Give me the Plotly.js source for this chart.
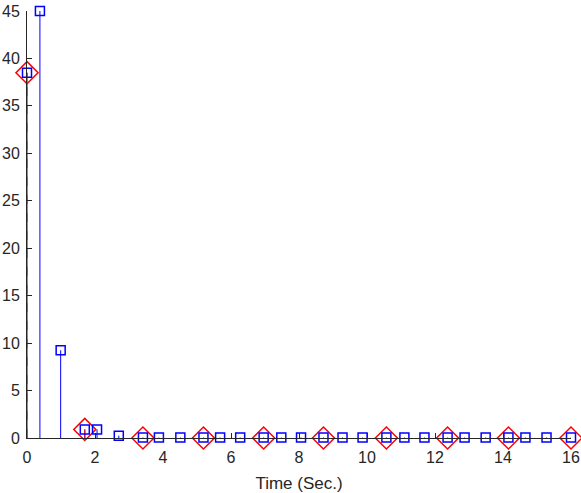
<!DOCTYPE html>
<html>
<head>
<meta charset="utf-8">
<script src="https://cdn.plot.ly/plotly-3.0.1.min.js"></script>
<style>html,body{margin:0;padding:0;background:#fff;}#chart{width:581px;height:493px;}</style>
</head>
<body>
<div id="chart"></div>
<script>
// Blue squares series (stem)
const blueX = [0.0, 0.38, 0.99, 1.70, 2.06, 2.70, 3.41, 3.88, 4.51, 5.19, 5.68, 6.27, 6.96, 7.48, 8.06, 8.72, 9.28, 9.87, 10.57, 11.10, 11.69, 12.37, 12.87, 13.49, 14.16, 14.66, 15.28, 16.0];
const blueY = [38.5, 45.0, 9.25, 0.9, 0.9, 0.25, 0.05, 0.05, 0.05, 0.05, 0.05, 0.05, 0.05, 0.05, 0.05, 0.05, 0.05, 0.05, 0.05, 0.05, 0.05, 0.05, 0.05, 0.05, 0.05, 0.05, 0.05, 0.05];
// Red diamonds series (stem)
const redX = [0.0, 1.70, 3.41, 5.19, 6.96, 8.72, 10.57, 12.37, 14.16, 16.0];
const redY = [38.5, 0.9, 0.0, 0.0, 0.0, 0.0, 0.0, 0.0, 0.0, 0.0];
const xTicks = [0, 2, 4, 6, 8, 10, 12, 14, 16];
const yTicks = [0, 5, 10, 15, 20, 25, 30, 35, 40, 45];
const xTitle = 'Time (Sec.)';

function stems(xs, ys) {
  const sx = [], sy = [];
  xs.forEach((x, i) => { sx.push(x, x, null); sy.push(0, ys[i], null); });
  return {x: sx, y: sy};
}
const bs = stems(blueX, blueY);
const rs = stems(redX, redY);

const traces = [
  {x: bs.x, y: bs.y, mode: 'lines', line: {color: '#0000ff', width: 1}, hoverinfo: 'skip', cliponaxis: false, showlegend: false},
  {x: rs.x, y: rs.y, mode: 'lines', line: {color: '#ff0000', width: 1, dash: 'dash'}, hoverinfo: 'skip', cliponaxis: false, showlegend: false},
  {x: redX, y: redY, mode: 'markers', marker: {symbol: 'diamond-open', size: 17, color: '#ff0000', line: {color: '#ff0000', width: 1.5}}, cliponaxis: false, showlegend: false},
  {x: blueX, y: blueY, mode: 'markers', marker: {symbol: 'square-open', size: 9, color: '#0000ff', line: {color: '#0000ff', width: 1.5}}, cliponaxis: false, showlegend: false}
];

const font = {family: '"Liberation Sans", Arial, sans-serif', size: 16, color: '#262626'};
const layout = {
  width: 581, height: 493,
  margin: {l: 27, r: 10, t: 11, b: 55},
  paper_bgcolor: '#fff', plot_bgcolor: '#fff',
  font: font,
  showlegend: false,
  xaxis: {
    range: [0, 16], tickvals: xTicks, ticktext: xTicks.map(String),
    showgrid: false, zeroline: false, showline: true, linecolor: '#262626', linewidth: 1,
    ticks: 'inside', ticklen: 5, tickcolor: '#262626', tickfont: font, ticklabelstandoff: 5,
    title: {text: xTitle, font: {family: font.family, size: 17, color: '#262626'}, standoff: 12}
  },
  yaxis: {
    range: [0, 45], tickvals: yTicks, ticktext: yTicks.map(String),
    showgrid: false, zeroline: false, showline: true, linecolor: '#262626', linewidth: 1,
    ticks: 'inside', ticklen: 5, tickcolor: '#262626', tickfont: font, ticklabelstandoff: 3
  }
};
Plotly.newPlot('chart', traces, layout, {displayModeBar: false, staticPlot: true});
</script>
</body>
</html>
